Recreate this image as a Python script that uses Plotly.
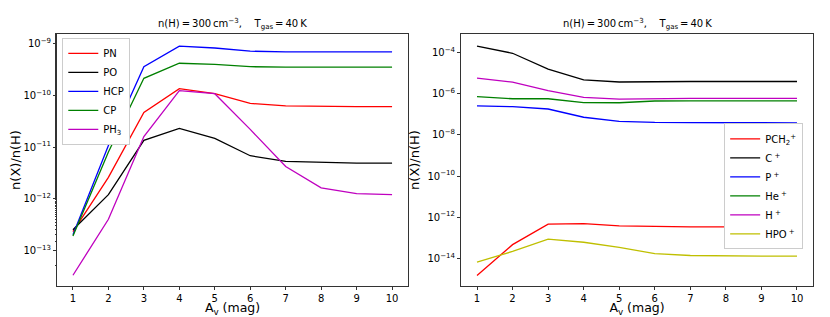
import plotly.graph_objects as go
from plotly.subplots import make_subplots

av = [1, 2, 3, 4, 5, 6, 7, 8, 9, 10]

# Left panel: neutral P-bearing species
pn = [2.3e-13, 2.6e-12, 4.7e-11, 1.35e-10, 1.08e-10, 7.0e-11, 6.3e-11, 6.1e-11, 6.1e-11, 6.1e-11]
po = [2.5e-13, 1.2e-12, 1.35e-11, 2.3e-11, 1.47e-11, 6.8e-12, 5.3e-12, 5.1e-12, 4.9e-12, 4.9e-12]
hcp = [2.0e-13, 1.07e-11, 3.6e-10, 9.0e-10, 8.3e-10, 7.2e-10, 7.0e-10, 7.0e-10, 7.0e-10, 7.0e-10]
cp = [1.9e-13, 8.0e-12, 2.15e-10, 4.2e-10, 4.0e-10, 3.6e-10, 3.55e-10, 3.55e-10, 3.55e-10, 3.55e-10]
ph3 = [3.3e-14, 4.0e-13, 1.6e-11, 1.24e-10, 1.08e-10, 2.2e-11, 4.2e-12, 1.63e-12, 1.26e-12, 1.2e-12]

# Right panel: ions
pch2p = [1.46e-15, 4.6e-14, 4.6e-13, 4.8e-13, 3.8e-13, 3.5e-13, 3.4e-13, 3.4e-13, 3.4e-13, 3.4e-13]
cp_ion = [2.1e-4, 9.5e-5, 1.6e-5, 4.8e-6, 3.8e-6, 4.0e-6, 4.0e-6, 4.0e-6, 4.0e-6, 4.0e-6]
pp_ion = [2.6e-7, 2.4e-7, 1.84e-7, 7.3e-8, 4.6e-8, 4.1e-8, 4.0e-8, 4.0e-8, 4.0e-8, 3.9e-8]
hep_ion = [7.3e-7, 5.8e-7, 5.8e-7, 3.8e-7, 3.7e-7, 4.5e-7, 4.6e-7, 4.6e-7, 4.6e-7, 4.6e-7]
hp_ion = [5.8e-6, 3.7e-6, 1.46e-6, 6.8e-7, 5.6e-7, 6.0e-7, 6.0e-7, 6.0e-7, 6.0e-7, 6.0e-7]
hpop_ion = [6.5e-15, 2.15e-14, 8.5e-14, 6.0e-14, 3.4e-14, 1.7e-14, 1.36e-14, 1.26e-14, 1.26e-14, 1.26e-14]

left_series = [("PN", pn, "red"), ("PO", po, "black"), ("HCP", hcp, "blue"),
               ("CP", cp, "green"), ("PH<sub>3</sub>", ph3, "#bf00bf")]
right_series = [("PCH<sub>2</sub><sup>+</sup>", pch2p, "red"), ("C<sup> +</sup>", cp_ion, "black"),
                ("P<sup> +</sup>", pp_ion, "blue"), ("He<sup> +</sup>", hep_ion, "green"),
                ("H<sup> +</sup>", hp_ion, "#bf00bf"), ("HPO<sup> +</sup>", hpop_ion, "#bfbf00")]

left_ticks = [-13, -12, -11, -10, -9]
right_ticks = [-14, -12, -10, -8, -6, -4]
x_ticks = [1, 2, 3, 4, 5, 6, 7, 8, 9, 10]

fig = make_subplots(rows=1, cols=2, horizontal_spacing=0.07)

for name, vals, col in left_series:
    fig.add_trace(go.Scatter(x=av, y=vals, mode="lines", name=name,
                             line=dict(color=col, width=1.3), legend="legend"), row=1, col=1)
for name, vals, col in right_series:
    fig.add_trace(go.Scatter(x=av, y=vals, mode="lines", name=name,
                             line=dict(color=col, width=1.3), legend="legend2"), row=1, col=2)

def sup(e):
    return "10<sup>\u2212%d</sup>" % (-e)

axis_common = dict(showline=True, linecolor="#333", linewidth=1, mirror=True,
                   ticks="outside", ticklen=3, tickcolor="#333", showgrid=False,
                   zeroline=False, automargin=False, tickfont=dict(size=10, color="black"))

fig.update_xaxes(**axis_common, range=[0.55, 10.45], tickvals=x_ticks,
                 title=dict(text="A<sub>v</sub> (mag)", font=dict(size=12.5, color="black"), standoff=2))
fig.update_yaxes(**axis_common, type="log",
                 title=dict(text="n(X)/n(H)", font=dict(size=13, color="black"), standoff=4))

fig.update_yaxes(range=[-13.69, -8.81], tickvals=[10.0 ** e for e in left_ticks],
                 ticktext=[sup(e) for e in left_ticks],
                 minor=dict(ticks="outside", ticklen=1.5, tickcolor="#333", showgrid=False),
                 row=1, col=1)
fig.update_yaxes(range=[-15.35, -3.085], tickvals=[10.0 ** e for e in right_ticks],
                 ticktext=[sup(e) for e in right_ticks], row=1, col=2)

fig.update_xaxes(domain=[0.0, 0.4643], row=1, col=1)
fig.update_xaxes(domain=[0.5344, 1.0], row=1, col=2)

title_txt = "n(H)\u2009=\u2009300\u2009cm<sup>\u22123</sup>,\u00a0\u00a0\u00a0\u00a0T<sub>gas</sub>\u2009=\u200940\u2009K"
for x0, x1 in [(0.0, 0.4643), (0.5344, 1.0)]:
    fig.add_annotation(text=title_txt, xref="paper", yref="paper", x=(x0 + x1) / 2, y=1.0,
                       xanchor="center", yanchor="bottom", yshift=1, showarrow=False,
                       font=dict(size=10, color="black"))

legend_common = dict(bgcolor="white", bordercolor="#ccc", borderwidth=1,
                     font=dict(size=10, color="black"), tracegroupgap=0, itemwidth=30)

# the page body adds an 8px offset; figure size and margins compensate for it
fig.update_layout(
    width=822, height=309,
    margin=dict(l=49, r=17, t=26, b=31),
    plot_bgcolor="white", paper_bgcolor="white",
    font=dict(family="DejaVu Sans", color="black"),
    legend=dict(**legend_common, x=0.007, y=0.985, xanchor="left", yanchor="top"),
    legend2=dict(**legend_common, x=0.987, y=0.645, xanchor="right", yanchor="top"),
    showlegend=True,
)

fig.write_html("out.html")
